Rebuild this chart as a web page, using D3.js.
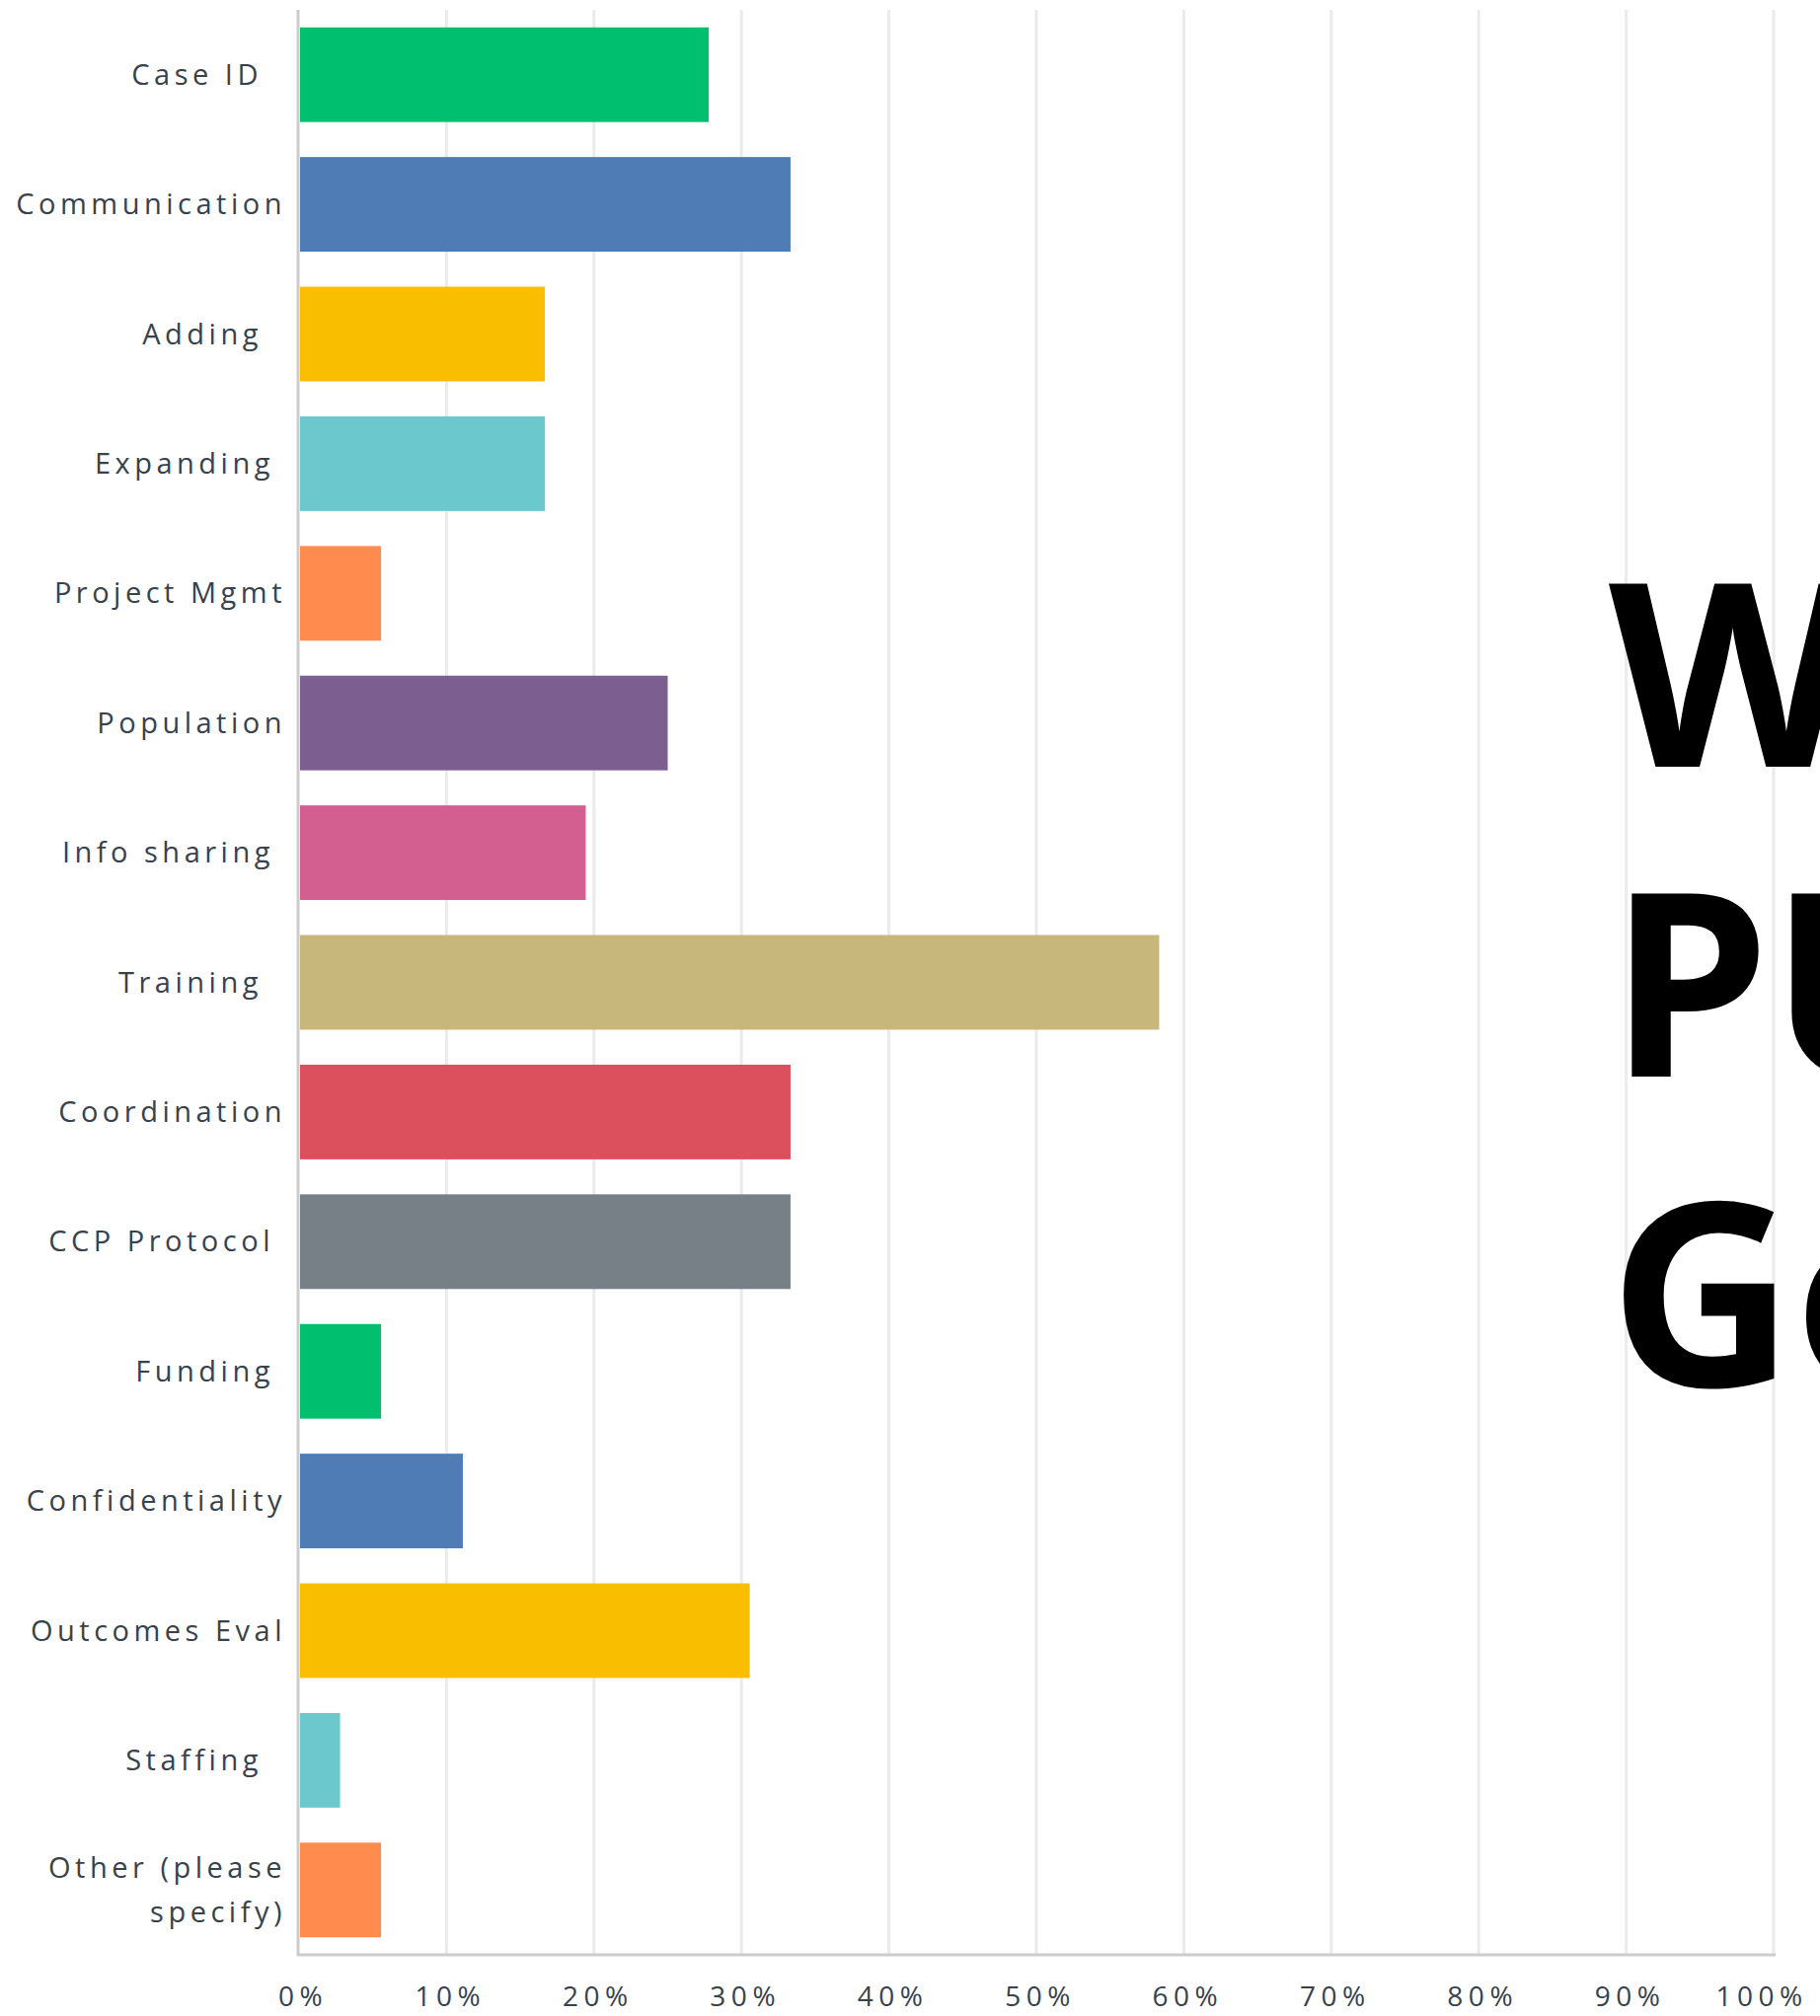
<!DOCTYPE html>
<html>
<head>
<meta charset="utf-8">
<script src="https://cdn.jsdelivr.net/npm/d3@7"></script>
<style>
  html, body { margin: 0; padding: 0; background: #ffffff; }
  svg { display: block; }
  .lbl { white-space: pre; }
</style>
</head>
<body>
<svg id="chart" width="1844" height="2043"></svg>
<script>
// ---- data ----
const categories = ["Case ID", "Communication", "Adding", "Expanding", "Project Mgmt", "Population",
  "Info sharing", "Training", "Coordination", "CCP Protocol", "Funding", "Confidentiality",
  "Outcomes Eval", "Staffing", "Other (please specify)"];
const categoryLabelLines = [["Case ID  "], ["Communication"], ["Adding  "], ["Expanding "], ["Project Mgmt"],
  ["Population"], ["Info sharing "], ["Training  "], ["Coordination"], ["CCP Protocol "], ["Funding "],
  ["Confidentiality"], ["Outcomes Eval"], ["Staffing  "], ["Other (please", "specify)"]];
const percentValues = [27.78, 33.33, 16.67, 16.67, 5.56, 25.00, 19.44, 58.33, 33.33, 33.33, 5.56, 11.11, 30.56, 2.78, 5.56];
const barColors = ["#00BF6F", "#507CB6", "#F9BE00", "#6BC8CD", "#FF8B4F", "#7D5E90", "#D25F90",
  "#C8B77A", "#DC4F5D", "#768086", "#00BF6F", "#507CB6", "#F9BE00", "#6BC8CD", "#FF8B4F"];
const xTicks = [0, 10, 20, 30, 40, 50, 60, 70, 80, 90, 100];
const xTickLabels = ["0%", "10%", "20%", "30%", "40%", "50%", "60%", "70%", "80%", "90%", "100%"];
const overlayLines = ["W", "PU", "Go"];

// ---- layout ----
const svg = d3.select("#chart");
const plotLeft = 303, plotRight = 1797, plotTop = 10, plotBottom = 1981;

const x = d3.scaleLinear().domain([0, 100]).range([plotLeft, plotRight]);
const y = d3.scaleBand().domain(categories).range([plotTop, plotBottom]).paddingInner(0.27).paddingOuter(0.135);

svg.append("rect").attr("width", 1844).attr("height", 2043).attr("fill", "#ffffff");

// gridlines
svg.append("g").selectAll("line").data(xTicks.filter(d => d > 0)).join("line")
  .attr("x1", d => x(d)).attr("x2", d => x(d))
  .attr("y1", plotTop).attr("y2", plotBottom)
  .attr("stroke", "#ebebeb").attr("stroke-width", 3);

// bars
svg.append("g").selectAll("rect").data(categories).join("rect")
  .attr("x", x(0) + 1)
  .attr("y", d => y(d))
  .attr("width", (d, i) => x(percentValues[i]) - x(0) - 1)
  .attr("height", y.bandwidth())
  .attr("fill", (d, i) => barColors[i]);

// axis lines
svg.append("line").attr("x1", x(0) - 1).attr("x2", x(0) - 1).attr("y1", plotTop).attr("y2", plotBottom + 1)
  .attr("stroke", "#cccccc").attr("stroke-width", 3);
svg.append("line").attr("x1", x(0) - 2).attr("x2", x(100) + 2).attr("y1", plotBottom).attr("y2", plotBottom)
  .attr("stroke", "#cccccc").attr("stroke-width", 3);

// category labels
const labelFont = "'Open Sans', 'Noto Sans', sans-serif";
const lg = svg.append("g");
categories.forEach((c, i) => {
  const lines = categoryLabelLines[i];
  const cy = y(c) + y.bandwidth() / 2;
  const lh = 45;
  lines.forEach((ln, j) => {
    const off = (j - (lines.length - 1) / 2) * lh;
    lg.append("text")
      .attr("class", "lbl")
      .attr("x", 290)
      .attr("y", cy + off + 10)
      .attr("text-anchor", "end")
      .attr("font-family", labelFont)
      .attr("font-size", 29)
      .attr("font-weight", 500)
      .attr("letter-spacing", 4.5)
      .attr("fill", "#37424d")
      .text(ln);
  });
});

// x tick labels
svg.append("g").selectAll("text").data(xTicks).join("text")
  .attr("x", (d, i) => x(d) + (i === xTicks.length - 1 ? -12 : 4))
  .attr("y", 2033)
  .attr("text-anchor", "middle")
  .attr("font-family", labelFont)
  .attr("font-size", 28)
  .attr("font-weight", 500)
  .attr("letter-spacing", 5.5)
  .attr("fill", "#37424d")
  .text((d, i) => xTickLabels[i]);

// large overlay text
svg.append("g").selectAll("text").data(overlayLines).join("text")
  .attr("x", 1630)
  .attr("y", (d, i) => 777 + i * 314)
  .attr("font-family", "'Open Sans', 'Noto Sans', sans-serif")
  .attr("font-weight", 700)
  .attr("font-size", 260)
  .attr("fill", "#000000")
  .text(d => d);
</script>
</body>
</html>
